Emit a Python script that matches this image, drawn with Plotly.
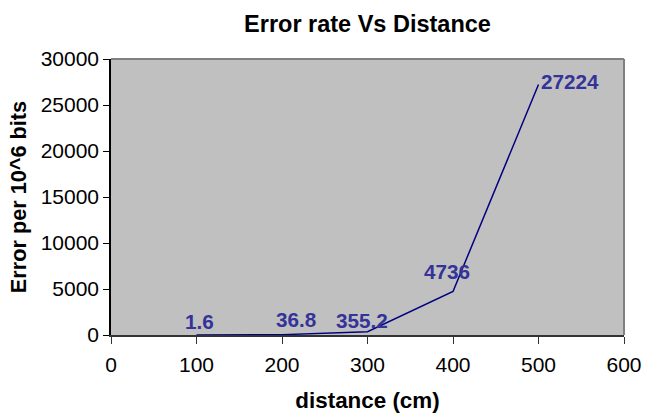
import plotly.graph_objects as go

distance = [100, 200, 300, 400, 500]
error_rate = [1.6, 36.8, 355.2, 4736, 27224]
labels = ["1.6", "36.8", "355.2", "4736", "27224"]
x_ticks = [0, 100, 200, 300, 400, 500, 600]
y_ticks = [0, 5000, 10000, 15000, 20000, 25000, 30000]

# label pixel offsets (style)
label_shift = [(3, 13), (14, 15), (-6, 11), (-6, 20), (31, 3)]

FONT = "Liberation Sans, Arial, sans-serif"

fig = go.Figure()
fig.add_trace(go.Scatter(
    x=distance, y=error_rate, mode="lines",
    line=dict(color="#000080", width=1.5),
    hoverinfo="skip", showlegend=False,
))

for xv, yv, t, (dx, dy) in zip(distance, error_rate, labels, label_shift):
    fig.add_annotation(
        x=xv, y=yv, xref="x", yref="y", text="<b>%s</b>" % t,
        showarrow=False, xanchor="center", yanchor="middle",
        xshift=dx, yshift=dy,
        font=dict(family=FONT, size=20.7, color="#333399"),
    )

fig.update_layout(
    width=645, height=413,
    margin=dict(l=111, r=21, t=59, b=78, pad=0, autoexpand=False),
    paper_bgcolor="white", plot_bgcolor="#C0C0C0",
    font=dict(family=FONT, size=21, color="black"),
    title=dict(text="<b>Error rate Vs Distance</b>", x=0.5, xref="paper",
               xanchor="center", y=1 - 24 / 413, yref="container",
               yanchor="middle", font=dict(family=FONT, size=23.5, color="black")),
    xaxis=dict(
        range=[0, 600], tickvals=x_ticks, ticktext=[str(v) for v in x_ticks],
        showgrid=False, zeroline=False, automargin=False,
        showline=True, linecolor="#333333", linewidth=1.5, mirror=False,
        ticks="outside", ticklen=7, tickcolor="#333333", tickwidth=1,
        ticklabelstandoff=3,
        tickfont=dict(family=FONT, size=21, color="black"),
        title=dict(text="<b>distance (cm)</b>", standoff=20,
                   font=dict(family=FONT, size=22.4, color="black")),
    ),
    yaxis=dict(
        range=[0, 30000], tickvals=y_ticks, ticktext=[str(v) for v in y_ticks],
        showgrid=False, zeroline=False, automargin=False,
        showline=True, linecolor="black", linewidth=1.5,
        ticks="outside", ticklen=6, tickcolor="black", tickwidth=1,
        tickfont=dict(family=FONT, size=21, color="black"),
        title=dict(text="<b>Error per 10^6 bits</b>", standoff=8,
                   font=dict(family=FONT, size=21.7, color="black")),
    ),
)

# gray frame on top and right of plot area
fig.add_shape(type="line", xref="paper", yref="paper", x0=0, x1=1, y0=1, y1=1,
              line=dict(color="#808080", width=2))
fig.add_shape(type="line", xref="paper", yref="paper", x0=1, x1=1, y0=0, y1=1,
              line=dict(color="#808080", width=2))

fig.write_html("out.html")
